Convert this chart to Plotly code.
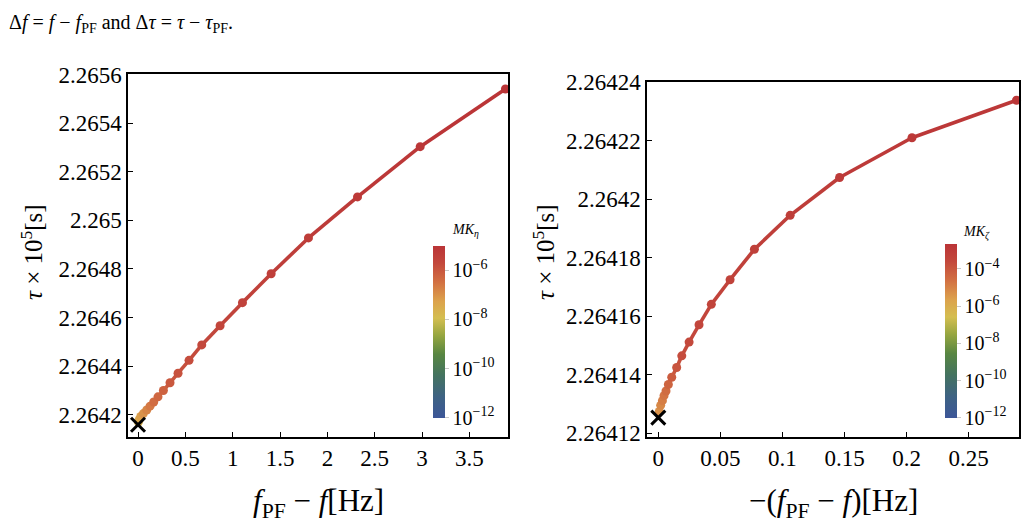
import plotly.graph_objects as go
from plotly.colors import sample_colorscale

W, H = 1025, 529

# ---------------- data ----------------
# left panel: f_PF - f [Hz] vs tau x 1e5 [s], colour = log10(MK_eta)
left_x = [0.004, 0.012, 0.029, 0.056, 0.092, 0.127, 0.166, 0.211, 0.268, 0.338,
          0.423, 0.539, 0.673, 0.867, 1.103, 1.406, 1.80, 2.318, 2.98, 3.88]
left_y = [2.264170, 2.264180, 2.2641933, 2.2642051, 2.2642198, 2.2642356, 2.2642526,
          2.2642739, 2.2643000, 2.2643317, 2.2643712, 2.2644242, 2.2644875, 2.2645666,
          2.2646615, 2.2647801, 2.2649276, 2.2650964, 2.2653032, 2.2655405]
left_logmk = [-7.6, -7.4, -7.2, -7.0, -6.8, -6.6, -6.4, -6.3, -6.2, -6.0,
              -5.9, -5.8, -5.7, -5.6, -5.5, -5.4, -5.3, -5.2, -5.1, -5.0]
left_pf = (0.0, 2.2641593)

# right panel: -(f_PF - f) [Hz] vs tau x 1e5 [s], colour = log10(MK_zeta)
right_x = [0.0008, 0.0019, 0.0033, 0.0046, 0.0062, 0.0081, 0.0108, 0.0148, 0.0189,
           0.0248, 0.0328, 0.0427, 0.0578, 0.0774, 0.1062, 0.146, 0.2043, 0.2885]
right_y = [2.2641275, 2.2641296, 2.2641312, 2.2641329, 2.2641345, 2.2641367, 2.2641392,
           2.2641425, 2.2641465, 2.2641512, 2.2641571, 2.2641641, 2.2641725, 2.2641829,
           2.2641945, 2.2642074, 2.2642210, 2.2642338]
right_logmk = [-5.3, -5.1, -4.9, -4.7, -4.5, -4.3, -4.1, -3.9, -3.7, -3.6,
               -3.5, -3.4, -3.3, -3.2, -3.1, -3.0, -2.9, -2.8]
right_pf = (0.0, 2.2641254)

left_xticks = [0, 0.5, 1, 1.5, 2, 2.5, 3, 3.5]
left_xtext = ["0", "0.5", "1", "1.5", "2", "2.5", "3", "3.5"]
left_yticks = [2.2642, 2.2644, 2.2646, 2.2648, 2.2650, 2.2652, 2.2654, 2.2656]
left_ytext = ["2.2642", "2.2644", "2.2646", "2.2648", "2.265", "2.2652", "2.2654", "2.2656"]
right_xticks = [0, 0.05, 0.1, 0.15, 0.2, 0.25]
right_xtext = ["0", "0.05", "0.1", "0.15", "0.2", "0.25"]
right_yticks = [2.26412, 2.26414, 2.26416, 2.26418, 2.26420, 2.26422, 2.26424]
right_ytext = ["2.26412", "2.26414", "2.26416", "2.26418", "2.2642", "2.26422", "2.26424"]

left_cb_ticks = [-12, -10, -8, -6]
right_cb_ticks = [-12, -10, -8, -6, -4]
left_crange = (-12, -5)
right_crange = (-12, -2.65)

# ---------------- style ----------------
FONT = "Liberation Serif"
cscale = [
    [0.0, "rgb(60,86,152)"],
    [0.12, "rgb(62,98,132)"],
    [0.25, "rgb(68,115,95)"],
    [0.37, "rgb(88,134,66)"],
    [0.48, "rgb(150,166,64)"],
    [0.58, "rgb(212,190,80)"],
    [0.68, "rgb(220,162,76)"],
    [0.79, "rgb(210,112,66)"],
    [0.9, "rgb(195,72,60)"],
    [1.0, "rgb(186,52,55)"],
]


def px_x(p):
    return p / W


def px_y(p):
    return 1 - p / H


def cb_tick_text(vals):
    return ["10<sup>\u2212%d</sup>" % (-v) for v in vals]


fig = go.Figure()


def add_panel(xs, ys, logmk, pf, xa, ya, crange, cax):
    lo, hi = crange
    for i in range(len(xs) - 1):
        m = 0.5 * (logmk[i] + logmk[i + 1])
        t = min(max((m - lo) / (hi - lo), 0), 1)
        c = sample_colorscale(cscale, [t])[0]
        fig.add_trace(go.Scatter(x=[xs[i], xs[i + 1]], y=[ys[i], ys[i + 1]], mode="lines",
                                 line=dict(color=c, width=3.6), xaxis=xa, yaxis=ya,
                                 showlegend=False, hoverinfo="skip", cliponaxis=False))
    fig.add_trace(go.Scatter(x=xs, y=ys, mode="markers", xaxis=xa, yaxis=ya,
                             marker=dict(size=9, color=logmk, coloraxis=cax, line=dict(width=0)),
                             showlegend=False, cliponaxis=False))
    fig.add_trace(go.Scatter(x=[pf[0]], y=[pf[1]], mode="markers", xaxis=xa, yaxis=ya,
                             marker=dict(symbol="x-thin", size=14, color="black",
                                         line=dict(width=3, color="black")),
                             showlegend=False, cliponaxis=False))


add_panel(left_x, left_y, left_logmk, left_pf, "x", "y", left_crange, "coloraxis")
add_panel(right_x, right_y, right_logmk, right_pf, "x2", "y2", right_crange, "coloraxis2")

axis_common = dict(showline=True, linecolor="black", linewidth=1.5, mirror=True,
                   ticks="inside", ticklen=5, tickwidth=1, tickcolor="black",
                   showgrid=False, zeroline=False,
                   tickfont=dict(family=FONT, size=23, color="black"))

fig.update_layout(
    width=W, height=H,
    margin=dict(l=0, r=0, t=0, b=0),
    paper_bgcolor="white", plot_bgcolor="white",
    font=dict(family=FONT, color="black"),
    xaxis=dict(domain=[px_x(128), px_x(507.5)], range=[-0.1057, 3.902],
               tickvals=left_xticks, ticktext=left_xtext, anchor="y", **axis_common),
    yaxis=dict(domain=[px_y(442.5), px_y(65)], range=[2.264109, 2.2656003],
               tickvals=left_yticks, ticktext=left_ytext, anchor="x", **axis_common),
    xaxis2=dict(domain=[px_x(647), px_x(1018.5)], range=[-0.00911, 0.2901],
                tickvals=right_xticks, ticktext=right_xtext, anchor="y2", **axis_common),
    yaxis2=dict(domain=[px_y(442.5), px_y(72.7)], range=[2.2641188, 2.2642401],
                tickvals=right_yticks, ticktext=right_ytext, anchor="x2", **axis_common),
    coloraxis=dict(colorscale=cscale, cmin=left_crange[0], cmax=left_crange[1],
                   colorbar=dict(x=px_x(433), xanchor="left", y=px_y(333), yanchor="middle",
                                 len=172, lenmode="pixels", thickness=12, thicknessmode="pixels",
                                 xpad=0, ypad=0, outlinewidth=0,
                                 tickvals=left_cb_ticks, ticktext=cb_tick_text(left_cb_ticks),
                                 ticks="outside", ticklen=4, tickcolor="#c8c8c8",
                                 tickfont=dict(family=FONT, size=20, color="black"))),
    coloraxis2=dict(colorscale=cscale, cmin=right_crange[0], cmax=right_crange[1],
                    colorbar=dict(x=px_x(945), xanchor="left", y=px_y(332), yanchor="middle",
                                  len=174, lenmode="pixels", thickness=12, thicknessmode="pixels",
                                  xpad=0, ypad=0, outlinewidth=0,
                                  tickvals=right_cb_ticks, ticktext=cb_tick_text(right_cb_ticks),
                                  ticks="outside", ticklen=4, tickcolor="#c8c8c8",
                                  tickfont=dict(family=FONT, size=20, color="black"))),
)

ann = [
    dict(text="\u0394<i>f</i> = <i>f</i> \u2212 <i>f</i><sub>PF</sub> and \u0394<i>\u03c4</i> = <i>\u03c4</i> \u2212 <i>\u03c4</i><sub>PF</sub>.",
         x=px_x(7), y=px_y(12), xanchor="left", yanchor="middle", font=dict(size=20)),
    dict(text="<i>\u03c4</i> \u00d7 10<sup>5</sup>[s]", x=px_x(32), y=px_y(250), textangle=-90,
         xanchor="center", yanchor="middle", font=dict(size=25)),
    dict(text="<i>\u03c4</i> \u00d7 10<sup>5</sup>[s]", x=px_x(544), y=px_y(250), textangle=-90,
         xanchor="center", yanchor="middle", font=dict(size=25)),
    dict(text="<i>f</i><sub>PF</sub> \u2212 <i>f</i>[Hz]", x=px_x(318), y=px_y(511),
         xanchor="center", yanchor="middle", font=dict(size=31)),
    dict(text="\u2212(<i>f</i><sub>PF</sub> \u2212 <i>f</i>)[Hz]", x=px_x(833), y=px_y(511),
         xanchor="center", yanchor="middle", font=dict(size=31)),
    dict(text="<i>MK</i><sub><i>\u03b7</i></sub>", x=px_x(465), y=px_y(228),
         xanchor="center", yanchor="middle", font=dict(size=14)),
    dict(text="<i>MK</i><sub><i>\u03b6</i></sub>", x=px_x(976), y=px_y(230),
         xanchor="center", yanchor="middle", font=dict(size=14)),
]
for a in ann:
    a.update(xref="paper", yref="paper", showarrow=False)
    a.setdefault("font", {})
    a["font"].update(family=FONT, color="black")
fig.update_layout(annotations=ann)

fig.write_html("out.html")
